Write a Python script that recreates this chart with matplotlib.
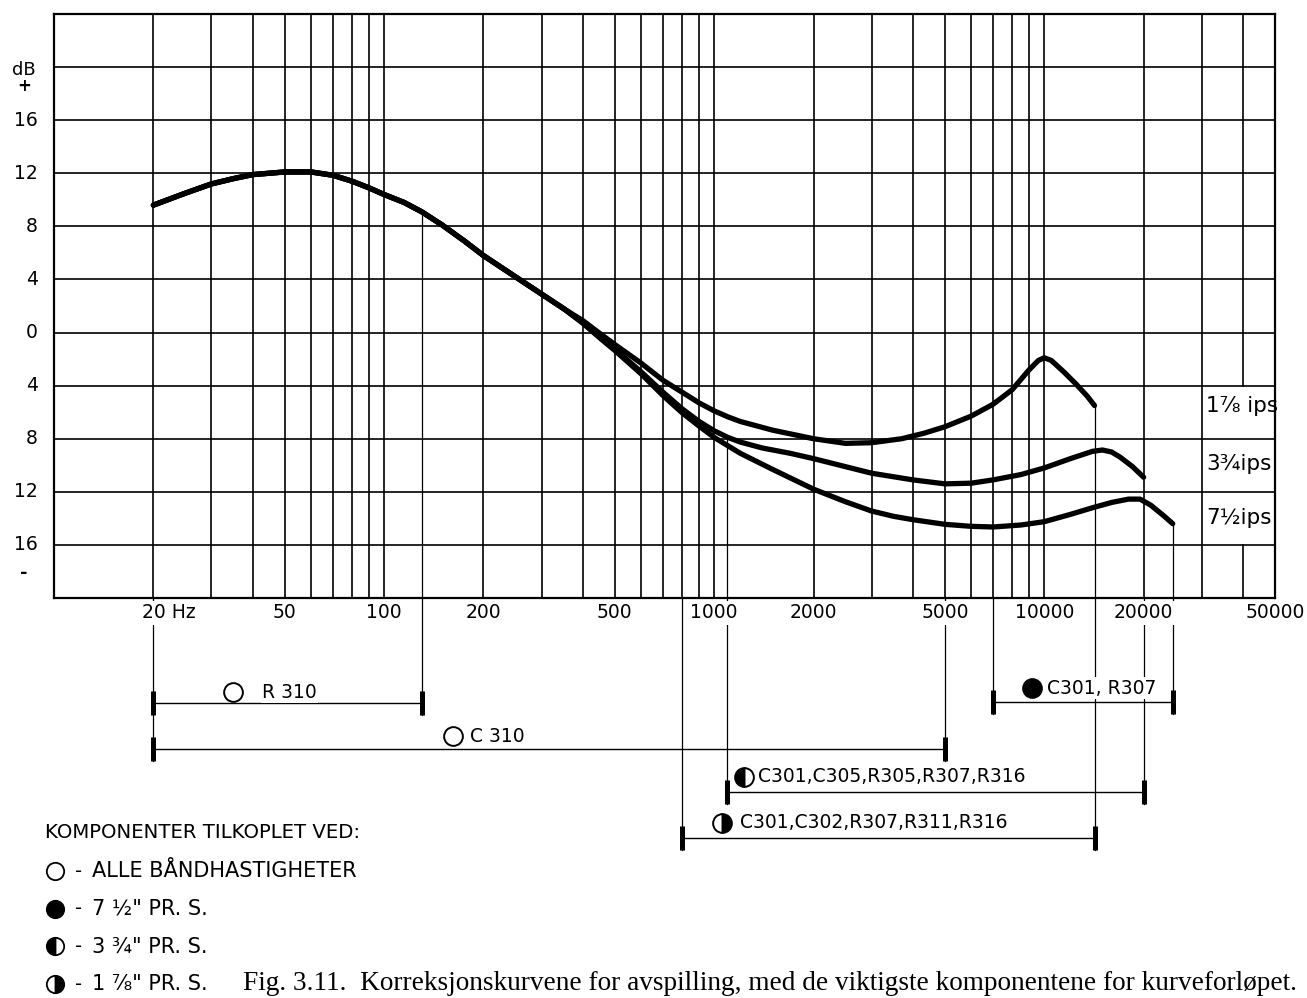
import matplotlib
matplotlib.use("Agg")
import matplotlib.pyplot as plt
from matplotlib.transforms import offset_copy

# ---------------- data ----------------
# shared low-frequency part of the three playback curves (Hz, dB)
f_common = [20, 25, 30, 35, 40, 50, 60, 70, 80, 90, 100, 115, 130, 150, 175, 200, 250, 300, 350]
v_common = [9.6, 10.5, 11.2, 11.6, 11.9, 12.1, 12.1, 11.85, 11.4, 10.9, 10.4, 9.8, 9.1, 8.1, 6.9, 5.8, 4.2, 2.9, 1.8]

# 1 7/8 ips
f_178 = [400, 455, 500, 600, 700, 800, 900, 1000, 1100, 1200, 1500, 2000, 2500, 3000, 3700, 4300, 5000, 6000,
         7000, 8000, 9000, 9600, 10000, 10500, 11500, 12500, 13500, 14200]
v_178 = [0.9, -0.15, -0.9, -2.3, -3.6, -4.5, -5.3, -5.9, -6.35, -6.7, -7.35, -8.0, -8.35, -8.3, -8.0, -7.6, -7.1, -6.3,
         -5.4, -4.3, -2.8, -2.1, -1.9, -2.1, -3.0, -3.9, -4.8, -5.5]

# 3 3/4 ips
f_334 = [400, 455, 500, 600, 700, 800, 900, 1000, 1100, 1200, 1400, 1700, 2000, 3000, 4000, 5000, 6000, 7000, 8500,
         10000, 12000, 14000, 15000, 16000, 17000, 18500, 20000]
v_334 = [0.75, -0.45, -1.25, -2.95, -4.5, -5.75, -6.7, -7.4, -7.9, -8.25, -8.7, -9.1, -9.5, -10.6, -11.1, -11.4,
         -11.35, -11.1, -10.7, -10.2, -9.5, -8.95, -8.85, -9.0, -9.4, -10.1, -10.9]

# 7 1/2 ips
f_712 = [400, 455, 500, 600, 700, 800, 900, 1000, 1200, 1500, 2000, 2500, 3000, 3500, 4000, 5000, 6000, 7000,
         8500, 10000, 12000, 14000, 16000, 18000, 19500, 21000, 23000, 24500]
v_712 = [0.7, -0.5, -1.35, -3.1, -4.75, -6.05, -7.05, -7.9, -9.1, -10.3, -11.8, -12.75, -13.45, -13.85, -14.1, -14.45,
         -14.6, -14.65, -14.5, -14.25, -13.7, -13.2, -12.8, -12.55, -12.55, -13.0, -13.8, -14.4]

curve_labels = ["1\u215e ips", "3\u00beips", "7\u00bdips"]

x_ticks = [20, 50, 100, 200, 500, 1000, 2000, 5000, 10000, 20000, 50000]
x_tick_labels = ["20 Hz", "50", "100", "200", "500", "1000", "2000", "5000", "10000", "20000", "50000"]
y_ticks = [16, 12, 8, 4, 0, -4, -8, -12, -16]
y_tick_labels = ["16", "12", "8", "4", "0", "4", "8", "12", "16"]

# component ranges (Hz)
comp_labels = ["R 310", "C 310", "C301, R307", "C301,C305,R305,R307,R316", "C301,C302,R307,R311,R316"]
comp_lo = [20, 20, 7000, 1090, 800]
comp_hi = [130, 5000, 24500, 20000, 14200]
comp_fill = ["none", "none", "full", "left", "right"]

legend_title = "KOMPONENTER TILKOPLET VED:"
legend_fill = ["none", "full", "left", "right"]
legend_texts = ["ALLE BÅNDHASTIGHETER", "7 \u00bd\" PR. S.", "3 \u00be\" PR. S.", "1 \u215e\" PR. S."]
caption = "Fig. 3.11.  Korreksjonskurvene for avspilling, med de viktigste komponentene for kurveforløpet."

# ---------------- layout ----------------
W, H = 1307, 998
L, R, T, B = 54, 1275, 14, 598
fig = plt.figure(figsize=(W / 100, H / 100), dpi=100)
fig.patch.set_facecolor("white")

ax = fig.add_axes([L / W, 1 - B / H, (R - L) / W, (B - T) / H], zorder=2)
ax.set_xscale("log")
ax.set_xlim(10, 50000)
ax.set_ylim(-20, 24)
ax.set_xticks([])
ax.set_yticks([])
ax.xaxis.set_minor_locator(matplotlib.ticker.NullLocator())
for s in ax.spines.values():
    s.set_linewidth(1.6)

# bottom axes: same log x, y in pixels below the chart
axb = fig.add_axes([L / W, 0, (R - L) / W, (H - B) / H], zorder=1)
axb.set_xscale("log")
axb.set_xlim(10, 50000)
axb.set_ylim(H - B, 0)
axb.axis("off")

# overlay in pixel coordinates
axo = fig.add_axes([0, 0, 1, 1], zorder=3)
axo.set_xlim(0, W)
axo.set_ylim(H, 0)
axo.axis("off")
axo.patch.set_alpha(0)

# ---------------- grid ----------------
grid_f = [n * 10 ** k for k in range(1, 5) for n in range(1, 10)][1:]
grid_f = [g for g in grid_f if g < 50000]
for g in grid_f:
    if g == 40000:
        ax.plot([g, g], [24, -4], color="black", lw=1.2)
        ax.plot([g, g], [-16, -20], color="black", lw=1.2)
    else:
        ax.plot([g, g], [-20, 24], color="black", lw=1.2)
for yv in range(-16, 24, 4):
    ax.plot([10, 50000], [yv, yv], color="black", lw=1.2)

# ---------------- curves ----------------
for fs, vs in [(f_178, v_178), (f_334, v_334), (f_712, v_712)]:
    ax.plot(f_common + fs, v_common + vs, color="black", lw=3.8,
            solid_capstyle="round", solid_joinstyle="round", zorder=5)

for lab, yv in zip(curve_labels, [-5.5, -9.9, -14.0]):
    ax.text(31000, yv, lab, ha="left", va="center", fontsize=15.5, family="DejaVu Sans")

# ---------------- tick labels ----------------
xt = ax.get_xaxis_transform()
for f, lab in zip(x_ticks, x_tick_labels):
    if lab.endswith("Hz"):
        tr = offset_copy(xt, fig=fig, x=-11, y=0, units="dots")
        ax.text(f, -15 / (B - T), lab, transform=tr, ha="left", va="center", fontsize=13.5,
                bbox=dict(facecolor="white", edgecolor="none", pad=1.5))
    else:
        ax.text(f, -15 / (B - T), lab, transform=xt, ha="center", va="center", fontsize=13.5,
                bbox=dict(facecolor="white", edgecolor="none", pad=1.5))

yt = ax.get_yaxis_transform()
for v, lab in zip(y_ticks, y_tick_labels):
    ax.text(-16 / (R - L), v, lab, transform=yt, ha="right", va="center", fontsize=13.5)
axo.text(24, 70, "dB", ha="center", va="center", fontsize=13)
axo.text(24, 86, "+", ha="center", va="center", fontsize=12, fontweight="bold")
axo.text(24, 573, "-", ha="center", va="center", fontsize=13, fontweight="bold")

# ---------------- component brackets ----------------
row_y = [105, 151, 104, 194, 240]          # px below chart
drops = [  # (freq, top value in chart or None, bottom px below chart)
    (20, None, 163), (130, 9.1, 117), (5000, None, 163), (7000, None, 116),
    (24500, v_712[-1], 116), (1090, -8.0, 206), (20000, None, 206),
    (800, None, 252), (14200, v_178[-1], 252),
]
for f, top, bot in drops:
    if top is not None:
        ax.plot([f, f], [top, -20], color="black", lw=0.9, zorder=4)
    axb.plot([f, f], [0, bot], color="black", lw=0.9, zorder=1)

for lo, hi, yy in zip(comp_lo, comp_hi, row_y):
    axb.plot([lo, hi], [yy, yy], color="black", lw=1.0, zorder=2)
    for xx in (lo, hi):
        axb.plot([xx, xx], [yy - 12, yy + 12], color="black", lw=3.6, solid_capstyle="butt", zorder=3)

sym_px = [(233, 262, 692), (453, 470, 736), (1032, 1047, 688), (744, 758, 777), (722, 740, 823)]
for (cx, tx, ty), lab, fill in zip(sym_px, comp_labels, comp_fill):
    axo.text(tx, ty, lab, ha="left", va="center", fontsize=13.5,
             bbox=dict(facecolor="white", edgecolor="none", pad=1.0))
    if fill == "none":
        axo.plot([cx], [ty], marker="o", ms=13.5, mfc="white", mec="black", mew=1.4)
    else:
        axo.plot([cx], [ty], marker="o", ms=13.5, mfc="black", mec="black", mew=1.4,
                 fillstyle=fill, markerfacecoloralt="white")

# ---------------- legend & caption ----------------
axo.text(45, 833, legend_title, ha="left", va="center", fontsize=14.2)
for i, (fill, txt) in enumerate(zip(legend_fill, legend_texts)):
    yy = 871 + i * 37.7
    if fill == "none":
        axo.plot([55], [yy], marker="o", ms=12.5, mfc="white", mec="black", mew=1.3)
    else:
        axo.plot([55], [yy], marker="o", ms=12.5, mfc="black", mec="black", mew=1.3,
                 fillstyle=fill, markerfacecoloralt="white")
    axo.text(75, yy, "-", ha="left", va="center", fontsize=14)
    axo.text(92, yy, txt, ha="left", va="center", fontsize=15)

axo.text(243, 984, caption, ha="left", va="center", fontsize=19.6, family="Liberation Serif")

fig.savefig("out.png", dpi=100, facecolor="white")
